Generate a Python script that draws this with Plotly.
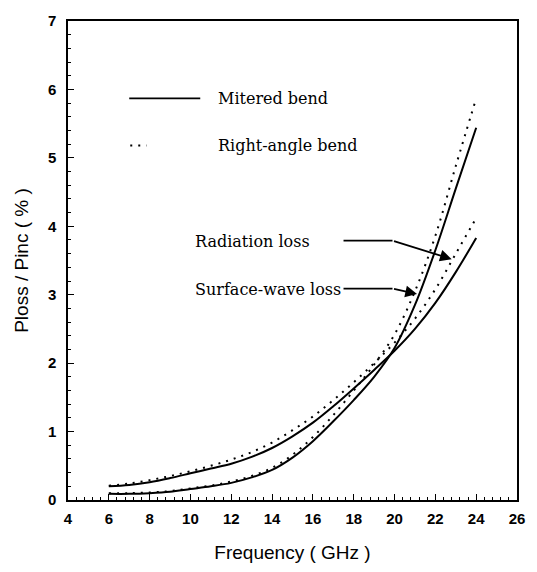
import plotly.graph_objects as go

freq = [6, 7, 8, 9, 10, 11, 12, 13, 14, 15, 16, 17, 18, 19, 20, 21, 22, 23, 24]

rad_mitered = [0.20, 0.22, 0.26, 0.32, 0.39, 0.46, 0.53, 0.63, 0.76, 0.93, 1.13, 1.37, 1.63, 1.90, 2.18, 2.50, 2.88, 3.33, 3.83]
sw_mitered = [0.09, 0.09, 0.10, 0.12, 0.16, 0.20, 0.25, 0.33, 0.44, 0.62, 0.86, 1.15, 1.46, 1.80, 2.22, 2.85, 3.65, 4.55, 5.44]
rad_right = [0.21, 0.24, 0.29, 0.35, 0.42, 0.50, 0.59, 0.70, 0.84, 1.02, 1.22, 1.46, 1.72, 2.00, 2.30, 2.65, 3.08, 3.60, 4.12]
sw_right = [0.10, 0.10, 0.11, 0.13, 0.17, 0.21, 0.27, 0.35, 0.47, 0.66, 0.92, 1.24, 1.60, 1.98, 2.42, 3.05, 3.86, 4.88, 5.87]

x_ticks = list(range(4, 27, 2))
y_ticks = list(range(0, 8))

SERIF = "DejaVu Serif"
SANS = "Liberation Sans, Arial"
DOT = "2px,6px"

fig = go.Figure()
for ys in (rad_mitered, sw_mitered):
    fig.add_trace(go.Scatter(x=freq, y=ys, mode="lines", line=dict(color="black", width=2, shape="spline"), showlegend=False))
for ys in (rad_right, sw_right):
    fig.add_trace(go.Scatter(x=freq, y=ys, mode="lines", line=dict(color="black", width=2, dash=DOT, shape="spline"), showlegend=False))

# legend drawn manually
fig.add_shape(type="line", x0=7.0, x1=10.48, y0=5.87, y1=5.87, line=dict(color="black", width=1.8))
fig.add_shape(type="line", x0=7.05, x1=7.85, y0=5.18, y1=5.18, line=dict(color="black", width=2, dash=DOT))
fig.add_annotation(x=11.25, y=5.87, text="Mitered bend", showarrow=False, xanchor="left", yanchor="middle", font=dict(family=SERIF, size=16, color="black"))
fig.add_annotation(x=11.25, y=5.18, text="Right-angle bend", showarrow=False, xanchor="left", yanchor="middle", font=dict(family=SERIF, size=16, color="black"))

# labels with bent arrows
fig.add_annotation(x=10.1, y=3.78, text="Radiation loss", showarrow=False, xanchor="left", yanchor="middle", font=dict(family=SERIF, size=16, color="black"))
fig.add_annotation(x=10.1, y=3.08, text="Surface-wave loss", showarrow=False, xanchor="left", yanchor="middle", font=dict(family=SERIF, size=16, color="black"))
fig.add_shape(type="line", x0=17.5, x1=19.9, y0=3.79, y1=3.79, line=dict(color="black", width=1.8))
fig.add_shape(type="line", x0=17.5, x1=19.9, y0=3.09, y1=3.09, line=dict(color="black", width=1.8))
fig.add_annotation(x=22.8, y=3.52, ax=19.9, ay=3.79, axref="x", ayref="y", xref="x", yref="y", text="", showarrow=True,
                   arrowhead=2, arrowsize=1.3, arrowwidth=1.8, arrowcolor="black")
fig.add_annotation(x=21.1, y=3.01, ax=19.9, ay=3.09, axref="x", ayref="y", xref="x", yref="y", text="", showarrow=True,
                   arrowhead=2, arrowsize=1.3, arrowwidth=1.8, arrowcolor="black")

fig.update_layout(
    width=537, height=572,
    margin=dict(l=68, r=14, t=15, b=70),
    paper_bgcolor="white", plot_bgcolor="white",
    showlegend=False,
    font=dict(family=SANS, color="black"),
)
fig.update_xaxes(
    range=[4, 26], tickvals=x_ticks, ticktext=[str(v) for v in x_ticks],
    ticks="inside", ticklen=6, tickwidth=1.2, tickcolor="black",
    minor=dict(tick0=4, dtick=0.4, ticks="inside", ticklen=3, tickcolor="black", tickwidth=1),
    showline=True, linecolor="black", linewidth=1.5, mirror=True,
    showgrid=False, zeroline=False, ticklabelstandoff=4,
    tickfont=dict(family=SANS, size=15, color="black", weight="bold"),
    title=dict(text="Frequency ( GHz )", font=dict(family=SANS, size=19, color="black"), standoff=20),
)
fig.update_yaxes(
    range=[0, 7], tickvals=y_ticks, ticktext=[str(v) for v in y_ticks],
    ticks="inside", ticklen=6, tickwidth=1.2, tickcolor="black",
    minor=dict(tick0=0, dtick=0.2, ticks="inside", ticklen=3, tickcolor="black", tickwidth=1),
    showline=True, linecolor="black", linewidth=1.5, mirror=True,
    showgrid=False, zeroline=False, ticklabelstandoff=7,
    tickfont=dict(family=SANS, size=15, color="black", weight="bold"),
    title=dict(text="Ploss / Pinc ( % )", font=dict(family=SANS, size=19, color="black"), standoff=14),
)

fig.write_html("out.html")
